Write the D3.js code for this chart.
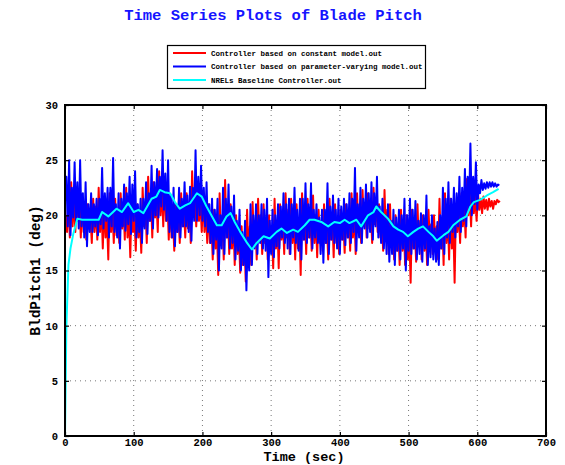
<!DOCTYPE html>
<html>
<head>
<meta charset="utf-8">
<script src="https://cdn.jsdelivr.net/npm/d3@7"></script>
<style>
  body { margin: 0; background: #fff; }
  text { font-family: "Liberation Mono", "DejaVu Sans Mono", monospace; font-weight: bold; }
</style>
</head>
<body>
<div id="chart"></div>
<script>
// series names (legend order)
const seriesNames = [
    "Controller based on constant model.out",
    "Controller based on parameter-varying model.out",
    "NRELs Baseline Controller.out"
];
const xTicks = [0, 100, 200, 300, 400, 500, 600, 700];
const yTicks = [0, 5, 10, 15, 20, 25, 30];

// constant model (red), one reading every 2 s from t = 1
const redStart = 1, redStep = 2;
const redValues = [
    20.0, 18.5, 22.0, 18.0,  23.0, 19.0, 21.5, 18.5,  22.5, 19.5, 21.0, 18.0,  21.5, 18.5, 20.5, 17.8,
    21.0, 18.8, 20.0, 17.5,  21.5, 18.5, 20.8, 17.8,  22.5, 18.5, 21.0, 17.0,  21.0, 18.0, 20.0, 16.0,
    22.0, 18.5, 20.5, 17.5,  21.5, 18.2, 20.0, 17.5,  22.0, 18.8, 21.0, 17.8,  22.5, 18.0, 20.5, 16.2,
    21.8, 18.5, 20.0, 16.8,  21.0, 18.0, 19.8, 16.6,  22.5, 19.0, 21.0, 17.5,  23.5, 19.5, 22.0, 18.0,
    23.0, 19.8, 21.5, 18.5,  24.0, 20.0, 22.5, 19.0,  23.5, 19.5, 21.5, 17.8,  21.5, 18.0, 20.0, 16.8,
    21.0, 18.5, 20.2, 17.5,  22.0, 19.0, 20.8, 18.0,  22.0, 18.8, 21.0, 17.5,  24.0, 20.0, 22.0, 19.0,
    23.0, 19.5, 21.5, 18.5,  22.0, 18.5, 20.5, 17.5,  21.0, 17.5, 19.5, 16.0,  20.5, 17.0, 19.0, 14.6,
    22.0, 17.5, 20.0, 16.0,  23.2, 18.0, 20.5, 16.5,  21.0, 17.0, 19.5, 15.5,  20.0, 16.5, 18.5, 14.8,
    19.0, 15.5, 18.0, 14.0,  20.5, 16.5, 19.0, 15.5,  21.2, 17.5, 19.5, 16.0,  21.5, 17.8, 20.0, 16.5,
    21.0, 17.5, 19.8, 16.0,  20.0, 16.8, 18.8, 15.2,  21.5, 17.0, 19.5, 15.2,  21.0, 17.8, 20.0, 16.5,
    22.0, 18.0, 20.5, 16.5,  21.5, 17.5, 20.0, 16.0,  21.0, 17.0, 19.5, 14.6,  22.0, 17.8, 20.5, 16.5,
    21.5, 18.0, 20.0, 16.8,  21.8, 17.5, 20.0, 16.2,  20.5, 17.5, 19.5, 16.8,  21.0, 17.5, 19.8, 16.0,
    21.5, 17.8, 20.0, 16.2,  21.0, 17.5, 19.5, 16.5,  20.5, 17.8, 19.5, 16.6,  21.0, 18.0, 20.0, 16.8,
    22.0, 18.0, 20.5, 16.5,  22.0, 18.5, 21.0, 17.5,  22.3, 19.0, 21.0, 18.0,  22.0, 18.8, 20.8, 17.5,
    22.5, 19.2, 21.0, 18.5,  21.0, 18.0, 20.0, 16.8,  22.3, 17.8, 20.5, 16.5,  21.0, 17.2, 19.5, 16.0,
    20.0, 16.8, 19.0, 15.5,  20.5, 16.8, 19.0, 15.5,  20.0, 16.0, 18.5, 13.9,  20.5, 17.0, 19.0, 15.8,
    21.0, 17.2, 19.5, 16.0,  20.0, 16.8, 19.0, 15.5,  20.5, 17.5, 19.2, 16.5,  20.0, 17.0, 19.0, 16.0,
    21.5, 17.0, 19.5, 15.5,  22.0, 17.5, 20.0, 16.0,  21.5, 17.0, 19.5, 13.9,  21.0, 18.5, 20.5, 17.5,
    22.0, 19.0, 21.0, 18.0,  23.3, 20.0, 22.0, 19.0,  23.0, 20.2, 21.8, 19.5,  22.0, 20.5, 21.5, 20.2,
    21.7, 20.6, 21.4, 20.5,  21.5, 20.8, 21.3, 20.6,  21.3, 21.0, 21.4, 21.2,  21.3
];

// parameter-varying model (blue), one reading every 2 s from t = 0
const blueStart = 0, blueStep = 2;
const blueValues = [
    21.5, 23.5, 19.0, 25.0,  18.2, 22.5, 19.8, 24.8,  19.5, 23.0, 18.8, 25.0,  19.0, 22.0, 18.0, 23.0,
    17.2, 21.0, 18.5, 22.0,  18.5, 21.0, 19.0, 21.5,  18.2, 21.5, 19.2, 24.3,  18.8, 22.0, 19.5, 22.5,
    18.0, 22.5, 19.0, 25.2,  18.5, 21.0, 18.0, 22.0,  17.0, 21.5, 19.0, 22.8,  18.6, 22.0, 19.2, 23.5,
    18.3, 22.8, 19.5, 24.0,  18.0, 21.0, 18.5, 21.5,  17.5, 21.5, 18.8, 23.0,  18.3, 22.0, 19.5, 24.5,
    18.8, 23.0, 20.0, 24.2,  19.8, 23.5, 20.8, 25.9,  20.5, 23.8, 19.5, 25.0,  18.5, 21.8, 18.0, 22.5,
    17.2, 21.0, 18.5, 22.5,  18.0, 21.5, 19.0, 23.0,  19.0, 21.8, 18.5, 22.6,  17.7, 22.5, 19.5, 25.9,
    19.5, 23.5, 20.0, 24.5,  19.5, 22.5, 19.0, 23.0,  18.5, 21.0, 17.5, 21.5,  16.5, 20.5, 17.8, 21.5,
    15.0, 20.0, 17.0, 22.5,  16.5, 21.5, 18.0, 22.8,  17.0, 20.8, 17.5, 21.8,  16.0, 19.5, 16.8, 20.5,
    15.0, 18.5, 15.5, 19.5,  13.2, 18.0, 15.0, 21.0,  15.5, 20.0, 17.0, 21.0,  16.5, 20.0, 17.5, 21.0,
    17.0, 20.5, 16.8, 21.5,  14.4, 19.5, 16.5, 20.5,  16.2, 20.0, 17.2, 21.0,  17.0, 20.8, 18.0, 22.0,
    17.5, 21.0, 17.0, 21.5,  16.5, 21.0, 18.0, 22.5,  17.5, 20.5, 16.8, 21.5,  16.0, 21.5, 17.8, 22.9,
    17.5, 21.0, 18.0, 22.9,  17.0, 20.5, 18.0, 21.0,  17.5, 19.8, 16.5, 20.5,  15.7, 20.5, 17.5, 22.9,
    16.5, 20.8, 17.8, 21.8,  17.5, 20.5, 17.0, 21.5,  16.5, 20.8, 17.8, 21.5,  17.3, 21.0, 18.0, 22.0,
    17.5, 21.5, 18.5, 24.3,  16.8, 21.0, 18.0, 22.5,  17.5, 21.5, 18.8, 22.8,  18.0, 22.0, 18.5, 23.0,
    17.8, 22.0, 19.0, 23.5,  18.0, 20.8, 17.5, 21.5,  17.0, 20.0, 16.5, 21.0,  15.8, 19.5, 16.5, 20.5,
    15.5, 19.8, 16.8, 20.5,  16.0, 20.0, 17.0, 21.5,  15.0, 20.0, 16.8, 21.5,  16.5, 20.5, 17.0, 21.3,
    16.0, 19.5, 16.5, 20.2,  15.8, 20.0, 17.0, 21.8,  15.5, 19.0, 16.2, 20.0,  16.0, 18.8, 15.8, 19.4,
    15.5, 20.0, 17.0, 22.5,  16.5, 21.5, 18.0, 23.0,  17.5, 21.5, 18.5, 22.5,  18.0, 22.0, 19.0, 23.5,
    18.5, 22.5, 19.5, 24.2,  19.0, 23.5, 20.5, 26.5,  20.0, 23.5, 21.0, 24.8,  20.5, 22.8, 22.0, 23.2,
    22.3, 22.9, 22.4, 23.0,  22.5, 23.0, 22.6, 23.0,  22.6, 22.9, 22.6, 22.8,  22.7
];

// NREL baseline (cyan)
const cyanTimes = [
    0, 2, 5, 8, 12, 18, 25, 34, 49, 54, 63, 75, 83, 92, 100, 107, 114, 126, 133, 138,
    145, 153, 160, 167, 175, 182, 192, 199, 206, 214, 221, 228, 235, 241, 247, 255, 265, 272, 279, 289,
    298, 308, 315, 323, 332, 339, 349, 356, 363, 373, 383, 392, 400, 407, 414, 424, 431, 441, 449, 453,
    460, 470, 478, 485, 492, 499, 507, 514, 521, 529, 536, 541, 551, 558, 565, 575, 584, 590, 595, 604,
    614, 623, 631
];
const cyanValues = [
    0, 10, 15.5, 17, 18.3, 19.7, 19.6, 19.6, 19.6, 20.3, 19.9, 20.6, 20.3, 21.1, 20.3, 20.5, 20.2, 21.5, 21.7, 22.3,
    22.1, 22.0, 21.2, 20.6, 20.9, 21.1, 22.0, 21.7, 20.8, 19.9, 19.1, 19.1, 19.9, 20.2, 19.4, 18.5, 17.5, 16.9, 17.5, 18.1,
    17.9, 18.5, 18.8, 18.4, 18.7, 18.5, 19.1, 19.6, 19.6, 19.4, 19.0, 19.4, 19.3, 19.6, 19.3, 19.6, 19.0, 20.0, 20.3, 20.8,
    20.3, 19.7, 19.0, 18.7, 18.5, 18.1, 18.5, 18.8, 19.0, 18.5, 18.1, 17.7, 18.2, 18.5, 19.1, 19.6, 19.9, 20.8, 21.2, 21.4,
    21.8, 22.1, 22.4
];

const colors = ["#ff0000", "#0000ff", "#00ffff"];

const width = 565, height = 465;
const mLeft = 65, mRight = 546, mTop = 105, mBottom = 436;

const svg = d3.select("#chart").append("svg")
    .attr("width", width)
    .attr("height", height);

const x = d3.scaleLinear().domain([0, 700]).range([mLeft, mRight]);
const y = d3.scaleLinear().domain([0, 30]).range([mBottom, mTop]);

// title
svg.append("text")
    .attr("x", 273).attr("y", 20)
    .attr("text-anchor", "middle")
    .style("font-size", "15.5px")
    .style("fill", "#1414ff")
    .text("Time Series Plots of Blade Pitch");

// grid
svg.append("g").selectAll("line")
    .data(xTicks.slice(1, -1))
    .join("line")
    .attr("x1", d => x(d)).attr("x2", d => x(d))
    .attr("y1", mTop).attr("y2", mBottom)
    .attr("stroke", "#777").attr("stroke-width", 1)
    .attr("stroke-dasharray", "1,4");
svg.append("g").selectAll("line")
    .data(yTicks.slice(1, -1))
    .join("line")
    .attr("y1", d => y(d)).attr("y2", d => y(d))
    .attr("x1", mLeft).attr("x2", mRight)
    .attr("stroke", "#777").attr("stroke-width", 1)
    .attr("stroke-dasharray", "1,4");

// clip
svg.append("clipPath").attr("id", "clip")
    .append("rect").attr("x", mLeft).attr("y", mTop)
    .attr("width", mRight - mLeft).attr("height", mBottom - mTop);

const line = d3.line().x(d => x(d[0])).y(d => y(d[1]));

const redData = redValues.map((v, i) => [redStart + i * redStep, v]);
const blueData = blueValues.map((v, i) => [blueStart + i * blueStep, v]);
const cyanData = cyanValues.map((v, i) => [cyanTimes[i], v]);

const plot = svg.append("g").attr("clip-path", "url(#clip)");
[[redData, colors[0]], [blueData, colors[1]], [cyanData, colors[2]]].forEach(([data, c]) => {
    plot.append("path")
        .datum(data)
        .attr("d", line)
        .attr("fill", "none")
        .attr("stroke", c)
        .attr("stroke-width", 2)
        .attr("stroke-linejoin", "round");
});

// axes with inward ticks
const xAxis = d3.axisBottom(x).tickValues(xTicks).tickSize(-4).tickPadding(3).tickSizeOuter(0);
const yAxis = d3.axisLeft(y).tickValues(yTicks).tickSize(-4).tickPadding(7).tickSizeOuter(0);
const gx = svg.append("g").attr("transform", `translate(0,${mBottom})`).call(xAxis);
const gy = svg.append("g").attr("transform", `translate(${mLeft},0)`).call(yAxis);
svg.append("g").attr("transform", `translate(0,${mTop})`)
    .call(d3.axisTop(x).tickValues(xTicks).tickSize(-4).tickFormat("").tickSizeOuter(0));
svg.append("g").attr("transform", `translate(${mRight},0)`)
    .call(d3.axisRight(y).tickValues(yTicks).tickSize(-4).tickFormat("").tickSizeOuter(0));
svg.selectAll(".domain").remove();
svg.selectAll(".tick line").attr("stroke", "#000").attr("stroke-width", 1.2);
[gx, gy].forEach(g => g.selectAll("text")
    .style("font-size", "10.5px")
    .style("font-family", "'Liberation Mono', monospace")
    .style("font-weight", "bold")
    .attr("fill", "#000"));

// frame
svg.append("rect")
    .attr("x", mLeft).attr("y", mTop)
    .attr("width", mRight - mLeft).attr("height", mBottom - mTop)
    .attr("fill", "none").attr("stroke", "#000").attr("stroke-width", 2);

// axis titles
svg.append("text")
    .attr("x", 304).attr("y", 461)
    .attr("text-anchor", "middle")
    .style("font-size", "13.5px")
    .text("Time (sec)");
svg.append("text")
    .attr("transform", `translate(40,${(mTop + mBottom) / 2}) rotate(-90)`)
    .attr("text-anchor", "middle")
    .style("font-size", "14.5px")
    .text("BldPitch1 (deg)");

// legend
const legend = svg.append("g");
legend.append("rect")
    .attr("x", 167.5).attr("y", 45.5)
    .attr("width", 258).attr("height", 43)
    .attr("fill", "#fff").attr("stroke", "#000").attr("stroke-width", 1.2);
seriesNames.forEach((name, i) => {
    const ly = 53 + i * 13.5;
    legend.append("line")
        .attr("x1", 173).attr("x2", 206)
        .attr("y1", ly).attr("y2", ly)
        .attr("stroke", colors[i]).attr("stroke-width", 2);
    legend.append("text")
        .attr("x", 211).attr("y", ly + 2.5)
        .style("font-size", "7.5px")
        .text(name);
});
</script>
</body>
</html>
